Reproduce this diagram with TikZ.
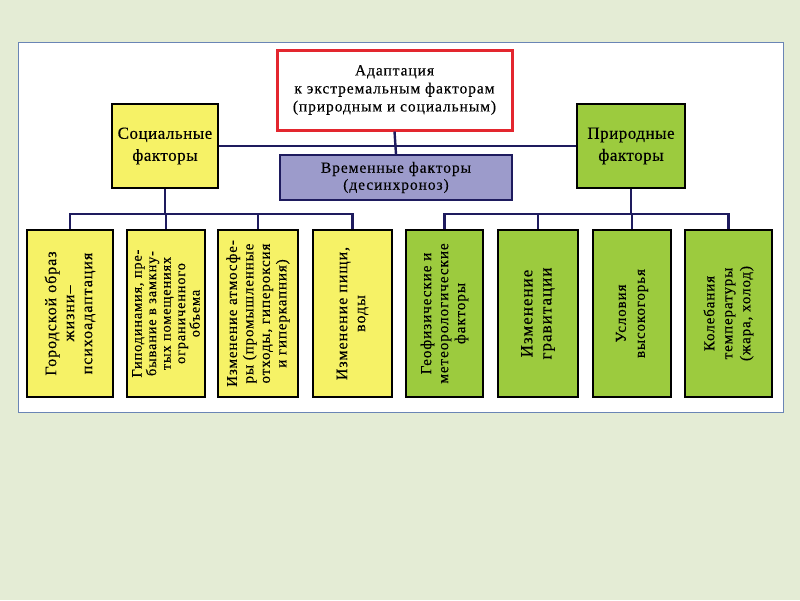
\documentclass[tikz,border=0pt]{standalone}
\usepackage{fontspec}
\setmainfont[LetterSpace=6,FakeBold=0.3]{Liberation Serif}
\newfontfamily\headfont[LetterSpace=3,FakeBold=0.3]{Liberation Serif}
\definecolor{pagebg}{HTML}{E4ECD5}
\definecolor{panelline}{HTML}{6A85B5}
\definecolor{topred}{HTML}{E3262E}
\definecolor{socyellow}{HTML}{F6F266}
\definecolor{natgreen}{HTML}{9CCB3E}
\definecolor{templilac}{HTML}{9C9BCB}
\definecolor{wirenavy}{HTML}{1E1B5E}
\tikzset{
  box/.style={draw=black, line width=1.6pt, inner sep=1pt, align=center, text=black},
  socbox/.style={box, fill=socyellow},
  natbox/.style={box, fill=natgreen},
  item/.style={rotate=90, minimum width=167, font=\fontsize{16}{18}\selectfont},
  wire/.style={draw=wirenavy, line width=2.4pt}
}
\begin{document}
\begin{tikzpicture}[x=1pt,y=-1pt]
\fill[pagebg] (0,0) rectangle (800,600);
\useasboundingbox (0,0) rectangle (800,600);
\draw[panelline, line width=1pt, fill=white] (18,42) rectangle (783,412);
% upper level
\node[box, draw=topred, line width=3pt, minimum width=235, minimum height=80,
  font=\fontsize{15.5}{18}\selectfont] (top) at (394.5,90)
  {Адаптация\\к экстремальным факторам\\(природным и социальным)};
\node[socbox, minimum width=106, minimum height=84, font=\headfont\fontsize{17}{22}\selectfont]
  (social) at (165,146) {Социальные\\факторы};
\node[natbox, minimum width=108, minimum height=84, font=\headfont\fontsize{17}{22}\selectfont]
  (nature) at (631,146) {Природные\\факторы};
\node[box, draw=wirenavy, fill=templilac, minimum width=232, minimum height=45,
  font=\fontsize{15.5}{17}\selectfont] (temp) at (396,177.5)
  {Временные факторы\\(десинхроноз)};
% social factors
\node[socbox, item, minimum height=86] (s1) at (70,313.5)
  {Городской образ\\жизни--\\психоадаптация};
\node[socbox, item, minimum height=78, font=\fontsize{14.3}{14.5}\selectfont] (s2) at (166,313.5)
  {Гиподинамия, пре-\\бывание в замкну-\\тых помещениях\\ограниченного\\объема};
\node[socbox, item, minimum height=80, font=\fontsize{15}{16.5}\selectfont] (s3) at (258,313.5)
  {Изменение атмосфе-\\ры (промышленные\\отходы, гипероксия\\и гиперкапния)};
\node[socbox, item, minimum height=79] (s4) at (352.5,313.5)
  {Изменение пищи,\\воды};
% natural factors
\node[natbox, item, minimum height=77, font=\fontsize{15.2}{17}\selectfont] (n1) at (444.5,313.5)
  {Геофизические и\\метеорологические\\факторы};
\node[natbox, item, minimum height=80, font=\fontsize{17}{19}\selectfont] (n2) at (538,313.5)
  {Изменение\\гравитации};
\node[natbox, item, minimum height=78, font=\fontsize{15}{19}\selectfont] (n3) at (632,313.5)
  {Условия\\высокогорья};
\node[natbox, item, minimum height=87, font=\fontsize{15}{18}\selectfont] (n4) at (728.5,313.5)
  {Колебания\\температуры\\(жара, холод)};
% connectors
\draw[wire] (social.east) -- (nature.west);
\draw[wire] (top.south) -- (temp.north);
\draw[wire] (social.south) -- ++(0,25) coordinate (sbus);
\draw[wire] (s1.east) -- (s1.east |- sbus) -| (s4.east);
\draw[wire] (s2.east) -- (s2.east |- sbus);
\draw[wire] (s3.east) -- (s3.east |- sbus);
\draw[wire] (nature.south) -- ++(0,25) coordinate (nbus);
\draw[wire] (n1.east) -- (n1.east |- nbus) -| (n4.east);
\draw[wire] (n2.east) -- (n2.east |- nbus);
\draw[wire] (n3.east) -- (n3.east |- nbus);
\end{tikzpicture}
\end{document}
